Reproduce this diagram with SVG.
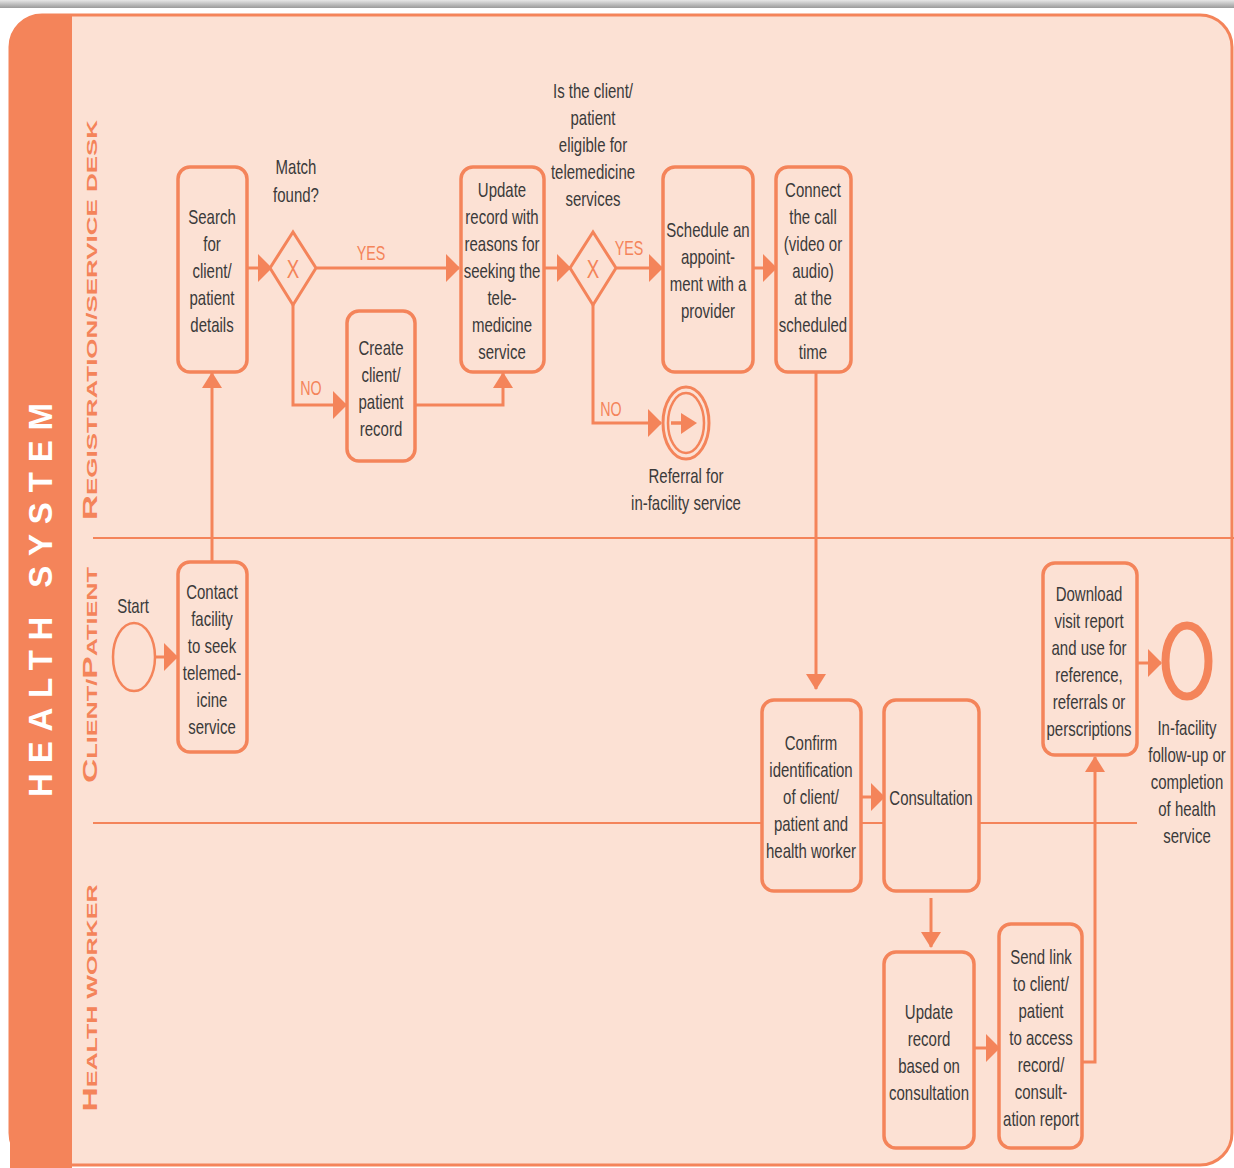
<svg xmlns="http://www.w3.org/2000/svg" width="1234" height="1168" viewBox="0 0 1234 1168">
<defs>
<linearGradient id="topbar" x1="0" y1="0" x2="0" y2="1">
<stop offset="0" stop-color="#e6e6e6"/><stop offset="1" stop-color="#9a9a9a"/>
</linearGradient>
<marker id="ah" markerUnits="userSpaceOnUse" markerWidth="14" markerHeight="28" refX="13" refY="14" orient="auto"><path d="M0,0 L14,14 L0,28 z" fill="#F4845A"/></marker>
<marker id="av" markerUnits="userSpaceOnUse" markerWidth="16" markerHeight="20" refX="15" refY="10" orient="auto"><path d="M0,0 L16,10 L0,20 z" fill="#F4845A"/></marker>
<style>
.box{fill:#FCE1D4;stroke:#F4845A;stroke-width:3.5}
.gw{fill:#FCE1D4;stroke:#F4845A;stroke-width:3}
.t{font-family:"Liberation Sans",Arial,sans-serif;font-size:20px;fill:#3a3a3a;text-anchor:middle}
.o{fill:#F4845A;font-size:21px}
.x{font-family:"Liberation Sans",Arial,sans-serif;font-size:26px;fill:#F4845A;text-anchor:middle}
.c{fill:none;stroke:#F4845A;stroke-width:3}
.lane{stroke:#F4845A;stroke-width:2}
.ln{font-family:"Liberation Sans","DejaVu Sans",sans-serif;font-weight:bold;fill:#F4845A;font-size:20px;text-anchor:middle}
.ln tspan.s{font-size:15px}
</style>
</defs>
<rect x="0" y="0" width="1234" height="8" fill="url(#topbar)"/>
<rect x="0" y="8" width="1234" height="1160" fill="#ffffff"/>
<rect x="10" y="15" width="1222" height="1150" rx="32" fill="#FCE1D4" stroke="#F4845A" stroke-width="3"/>
<path d="M10,1168 V47 A32,32 0 0 1 42,15 H72 V1168 Z" fill="#F4845A"/>
<g id="lanes">
<line class="lane" x1="93" y1="538" x2="1234" y2="538"/>
<line class="lane" x1="93" y1="823" x2="1137" y2="823"/>
<text x="0" y="0" transform="translate(52,600) rotate(-90)" font-family="Liberation Sans,DejaVu Sans,sans-serif" font-weight="bold" font-size="33" fill="#ffffff" text-anchor="middle" textLength="394" lengthAdjust="spacing">HEALTH SYSTEM</text>
<text class="ln" transform="translate(97,320) rotate(-90)" textLength="400" lengthAdjust="spacingAndGlyphs">R<tspan class="s">EGISTRATION/SERVICE DESK</tspan></text>
<text class="ln" transform="translate(97,675) rotate(-90)" textLength="216" lengthAdjust="spacingAndGlyphs">C<tspan class="s">LIENT/</tspan>P<tspan class="s">ATIENT</tspan></text>
<text class="ln" transform="translate(97,998) rotate(-90)" textLength="227" lengthAdjust="spacingAndGlyphs">H<tspan class="s">EALTH WORKER</tspan></text>
</g>
<g id="connectors" class="c">
<path d="M156,657 H177" marker-end="url(#ah)"/>
<path d="M212,562 V373" marker-end="url(#av)"/>
<path d="M247,268 H271" marker-end="url(#ah)"/>
<path d="M317,268 H459" marker-end="url(#ah)"/>
<path d="M293,305 V405 H346" marker-end="url(#ah)"/>
<path d="M415,405 H503 V373" marker-end="url(#av)"/>
<path d="M544,268 H570" marker-end="url(#ah)"/>
<path d="M617,268 H662" marker-end="url(#ah)"/>
<path d="M593,305 V423 H661" marker-end="url(#ah)"/>
<path d="M753,268 H776" marker-end="url(#ah)"/>
<path d="M816,372 V689" marker-end="url(#av)"/>
<path d="M861,797 H884" marker-end="url(#ah)"/>
<path d="M931,898 V947" marker-end="url(#av)"/>
<path d="M974,1048 H999" marker-end="url(#ah)"/>
<path d="M1082,1062 H1095 V757" marker-end="url(#av)"/>
<path d="M1137,663 H1161" marker-end="url(#ah)"/>
</g>
<g id="search"><rect class="box" x="178" y="167" width="69" height="205" rx="12"/>
<text class="t" transform="translate(212,0) scale(0.75,1)" x="0" y="224">Search<tspan x="0" dy="27">for</tspan><tspan x="0" dy="27">client/</tspan><tspan x="0" dy="27">patient</tspan><tspan x="0" dy="27">details</tspan></text></g>
<g id="gw1"><path class="gw" d="M293,232 L316,268 L293,305 L270,268 Z"/><text class="x" transform="translate(293,0) scale(0.72,1)" x="0" y="278">X</text>
<text class="t" transform="translate(296,0) scale(0.75,1)" x="0" y="174">Match<tspan x="0" dy="28">found?</tspan></text>
<text class="t o" transform="translate(371,0) scale(0.68,1)" x="0" y="260">YES</text><text class="t o" transform="translate(311,0) scale(0.68,1)" x="0" y="395">NO</text></g>
<g id="create"><rect class="box" x="347" y="311" width="68" height="150" rx="12"/>
<text class="t" transform="translate(381,0) scale(0.75,1)" x="0" y="355">Create<tspan x="0" dy="27">client/</tspan><tspan x="0" dy="27">patient</tspan><tspan x="0" dy="27">record</tspan></text></g>
<g id="update"><rect class="box" x="461" y="167" width="83" height="205" rx="12"/>
<text class="t" transform="translate(502,0) scale(0.75,1)" x="0" y="197">Update<tspan x="0" dy="27">record with</tspan><tspan x="0" dy="27">reasons for</tspan><tspan x="0" dy="27">seeking the</tspan><tspan x="0" dy="27">tele-</tspan><tspan x="0" dy="27">medicine</tspan><tspan x="0" dy="27">service</tspan></text></g>
<g id="gw2"><path class="gw" d="M593,232 L616,268 L593,305 L570,268 Z"/><text class="x" transform="translate(593,0) scale(0.72,1)" x="0" y="278">X</text>
<text class="t" transform="translate(593,0) scale(0.75,1)" x="0" y="98">Is the client/<tspan x="0" dy="27">patient</tspan><tspan x="0" dy="27">eligible for</tspan><tspan x="0" dy="27">telemedicine</tspan><tspan x="0" dy="27">services</tspan></text>
<text class="t o" transform="translate(629,0) scale(0.68,1)" x="0" y="255">YES</text><text class="t o" transform="translate(611,0) scale(0.68,1)" x="0" y="416">NO</text></g>
<g id="schedule"><rect class="box" x="663" y="167" width="90" height="205" rx="12"/>
<text class="t" transform="translate(708,0) scale(0.75,1)" x="0" y="237">Schedule an<tspan x="0" dy="27">appoint-</tspan><tspan x="0" dy="27">ment with a</tspan><tspan x="0" dy="27">provider</tspan></text></g>
<g id="connect"><rect class="box" x="776" y="167" width="75" height="205" rx="12"/>
<text class="t" transform="translate(813,0) scale(0.75,1)" x="0" y="197">Connect<tspan x="0" dy="27">the call</tspan><tspan x="0" dy="27">(video or</tspan><tspan x="0" dy="27">audio)</tspan><tspan x="0" dy="27">at the</tspan><tspan x="0" dy="27">scheduled</tspan><tspan x="0" dy="27">time</tspan></text></g>
<g id="referral"><ellipse cx="686" cy="423" rx="23" ry="36" fill="#FCE1D4" stroke="#F4845A" stroke-width="3"/><ellipse cx="686" cy="423" rx="18" ry="30" fill="none" stroke="#F4845A" stroke-width="2.5"/>
<line x1="671" y1="423" x2="684" y2="423" stroke="#F4845A" stroke-width="3.5"/><path d="M681,413 L697,423 L681,434 Z" fill="#F4845A"/>
<text class="t" transform="translate(686,0) scale(0.75,1)" x="0" y="483" font-size="21">Referral for<tspan x="0" dy="27">in-facility service</tspan></text></g>
<g id="start"><ellipse cx="134" cy="657" rx="21" ry="34" fill="#FCE1D4" stroke="#F4845A" stroke-width="2.5"/><text class="t" transform="translate(133,0) scale(0.75,1)" x="0" y="613">Start</text></g>
<g id="contact"><rect class="box" x="178" y="562" width="69" height="190" rx="12"/>
<text class="t" transform="translate(212,0) scale(0.75,1)" x="0" y="599">Contact<tspan x="0" dy="27">facility</tspan><tspan x="0" dy="27">to seek</tspan><tspan x="0" dy="27">telemed-</tspan><tspan x="0" dy="27">icine</tspan><tspan x="0" dy="27">service</tspan></text></g>
<g id="confirm"><rect class="box" x="762" y="700" width="99" height="191" rx="12"/>
<text class="t" transform="translate(811,0) scale(0.75,1)" x="0" y="750">Confirm<tspan x="0" dy="27">identification</tspan><tspan x="0" dy="27">of client/</tspan><tspan x="0" dy="27">patient and</tspan><tspan x="0" dy="27">health worker</tspan></text></g>
<g id="consultation"><rect class="box" x="884" y="700" width="95" height="191" rx="12"/>
<text class="t" transform="translate(931,0) scale(0.75,1)" x="0" y="805">Consultation</text></g>
<g id="update2"><rect class="box" x="884" y="952" width="90" height="196" rx="12"/>
<text class="t" transform="translate(929,0) scale(0.75,1)" x="0" y="1019">Update<tspan x="0" dy="27">record</tspan><tspan x="0" dy="27">based on</tspan><tspan x="0" dy="27">consultation</tspan></text></g>
<g id="sendlink"><rect class="box" x="999" y="924" width="83" height="224" rx="12"/>
<text class="t" transform="translate(1041,0) scale(0.75,1)" x="0" y="964">Send link<tspan x="0" dy="27">to client/</tspan><tspan x="0" dy="27">patient</tspan><tspan x="0" dy="27">to access</tspan><tspan x="0" dy="27">record/</tspan><tspan x="0" dy="27">consult-</tspan><tspan x="0" dy="27">ation report</tspan></text></g>
<g id="download"><rect class="box" x="1043" y="563" width="94" height="192" rx="12"/>
<text class="t" transform="translate(1089,0) scale(0.75,1)" x="0" y="601">Download<tspan x="0" dy="27">visit report</tspan><tspan x="0" dy="27">and use for</tspan><tspan x="0" dy="27">reference,</tspan><tspan x="0" dy="27">referrals or</tspan><tspan x="0" dy="27">perscriptions</tspan></text></g>
<g id="end"><ellipse cx="1187" cy="661" rx="21.5" ry="35.5" fill="none" stroke="#F4845A" stroke-width="8"/>
<text class="t" transform="translate(1187,0) scale(0.75,1)" x="0" y="735" font-size="23">In-facility<tspan x="0" dy="27">follow-up or</tspan><tspan x="0" dy="27">completion</tspan><tspan x="0" dy="27">of health</tspan><tspan x="0" dy="27">service</tspan></text></g>
</svg>
